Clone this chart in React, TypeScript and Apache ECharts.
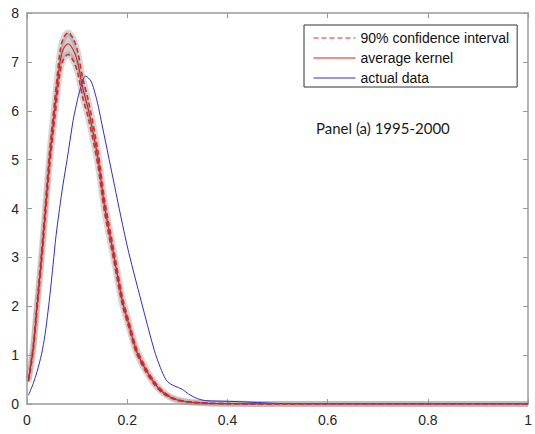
import React, { useEffect, useRef } from "react";
import * as echarts from "echarts";

// x positions for the kernel estimates
const xsKernel = [0.003, 0.0125, 0.02, 0.029, 0.037, 0.045, 0.055, 0.06, 0.066, 0.072, 0.082, 0.092, 0.101, 0.111, 0.123, 0.142, 0.154, 0.174, 0.19, 0.204, 0.218, 0.236, 0.254, 0.27, 0.29, 0.31, 0.33, 0.36, 0.4, 0.45, 0.5, 0.6, 0.8, 1.0];
const averageKernel = [0.49, 1.15, 2.0, 3.0, 4.0, 5.0, 6.0, 6.48, 7.0, 7.25, 7.37, 7.25, 7.0, 6.48, 6.0, 5.0, 4.1, 3.0, 2.12, 1.6, 1.1, 0.72, 0.43, 0.25, 0.12, 0.06, 0.035, 0.015, 0.006, 0.002, 0, 0, 0, 0];
const ciUpper = [0.52, 1.2, 2.07, 3.1, 4.12, 5.15, 6.18, 6.68, 7.22, 7.47, 7.6, 7.48, 7.22, 6.68, 6.18, 5.15, 4.23, 3.1, 2.2, 1.66, 1.15, 0.76, 0.46, 0.27, 0.13, 0.065, 0.038, 0.017, 0.007, 0.002, 0, 0, 0, 0];
const ciLower = [0.46, 1.1, 1.93, 2.9, 3.88, 4.85, 5.82, 6.28, 6.78, 7.03, 7.15, 7.03, 6.78, 6.28, 5.82, 4.85, 3.97, 2.9, 2.04, 1.54, 1.05, 0.68, 0.4, 0.23, 0.11, 0.055, 0.032, 0.013, 0.005, 0.002, 0, 0, 0, 0];

// actual data density
const xsActual = [0.003, 0.0125, 0.02, 0.029, 0.036, 0.042, 0.047, 0.052, 0.058, 0.065, 0.072, 0.08, 0.092, 0.097, 0.105, 0.117, 0.128, 0.136, 0.141, 0.148, 0.164, 0.175, 0.187, 0.203, 0.228, 0.254, 0.266, 0.277, 0.285, 0.294, 0.31, 0.323, 0.34, 0.356, 0.38, 0.4, 0.43, 0.46, 0.5, 0.55, 0.6, 1.0];
const actualData = [0.18, 0.42, 0.66, 1.02, 1.42, 1.9, 2.35, 2.85, 3.45, 4.0, 4.5, 5.0, 5.8, 6.05, 6.4, 6.71, 6.6, 6.35, 6.15, 5.8, 5.0, 4.45, 3.85, 3.1, 2.1, 1.1, 0.75, 0.5, 0.42, 0.37, 0.3, 0.2, 0.11, 0.07, 0.06, 0.055, 0.045, 0.03, 0.012, 0.003, 0, 0];

const panelLabel = "Panel (a) 1995-2000";
const legendNames = ["90% confidence interval", "average kernel", "actual data"];

const pairs = (xs: number[], ys: number[]) => xs.map((x, i) => [x, ys[i]]);

const AXIS_COLOR = "#9a9a9a";
const LABEL_COLOR = "#262626";
const FONT = "Liberation Sans";

export default function App() {
  const ref = useRef<HTMLDivElement>(null);
  useEffect(() => {
    if (!ref.current) return;
    const chart = echarts.init(ref.current, undefined, { renderer: "svg" });
    const axisCommon = {
      type: "value" as const,
      axisLine: { show: true, onZero: false, lineStyle: { color: AXIS_COLOR, width: 1.5 } },
      axisTick: { show: true, inside: true, length: 5, lineStyle: { color: AXIS_COLOR, width: 1 } },
      splitLine: { show: false },
    };
    const lineCommon = {
      type: "line" as const,
      showSymbol: false,
      symbol: "none",
      smooth: 0.3,
      silent: true,
    };
    const bandRows = xsKernel.map((x, i) => [x, ciLower[i], ciUpper[i]]);
    chart.setOption({
      animation: false,
      backgroundColor: "#ffffff",
      grid: { left: 27, right: 2, top: 13, bottom: 30, containLabel: false },
      xAxis: [
        {
          ...axisCommon,
          position: "bottom",
          min: 0,
          max: 1,
          interval: 0.2,
          axisLabel: { color: LABEL_COLOR, fontSize: 14, fontFamily: FONT, margin: 9 },
        },
        { ...axisCommon, position: "top", min: 0, max: 1, interval: 0.2, axisLabel: { show: false } },
      ],
      yAxis: [
        {
          ...axisCommon,
          position: "left",
          min: 0,
          max: 8,
          interval: 1,
          axisLabel: { color: LABEL_COLOR, fontSize: 14, fontFamily: FONT, margin: 8 },
        },
        { ...axisCommon, position: "right", min: 0, max: 8, interval: 1, axisLabel: { show: false } },
      ],
      legend: {
        data: legendNames,
        orient: "vertical",
        left: 304,
        top: 25,
        itemWidth: 42,
        itemHeight: 14,
        itemGap: 6,
        padding: [6, 8, 2, 9],
        borderColor: "#333333",
        borderWidth: 1,
        backgroundColor: "#ffffff",
        selectedMode: false,
        itemStyle: { opacity: 0 },
        lineStyle: { width: 1 },
        textStyle: { fontSize: 14, fontFamily: FONT, color: "#111111" },
      },
      graphic: [
        {
          type: "text",
          left: 316,
          top: 120,
          style: { text: panelLabel, font: "15px Lato", fill: "#1a1a1a" },
        },
      ],
      series: [
        {
          type: "custom",
          name: "band",
          silent: true,
          data: bandRows,
          encode: { x: 0, y: [1, 2] },
          renderItem: (params: any, api: any) => {
            if (params.dataIndex !== 0) return null;
            const top = bandRows.map((r) => api.coord([r[0], r[2]]));
            const bottom = bandRows.map((r) => api.coord([r[0], r[1]])).reverse();
            return {
              type: "polygon",
              shape: { points: top.concat(bottom), smooth: 0.3 },
              style: { fill: "rgba(160,160,160,0.5)", stroke: "none" },
            };
          },
        },
        {
          ...lineCommon,
          name: "haloUpper",
          data: pairs(xsKernel, ciUpper),
          lineStyle: { color: "rgba(140,140,140,0.35)", width: 6 },
        },
        {
          ...lineCommon,
          name: "haloLower",
          data: pairs(xsKernel, ciLower),
          lineStyle: { color: "rgba(140,140,140,0.35)", width: 6 },
        },
        {
          ...lineCommon,
          name: legendNames[2],
          data: pairs(xsActual, actualData),
          color: "#2e2ecc",
          lineStyle: { color: "#2e2ecc", width: 1 },
        },
        {
          ...lineCommon,
          name: legendNames[0],
          data: pairs(xsKernel, ciUpper),
          color: "#e02a2a",
          lineStyle: { color: "#e02a2a", width: 1.6, type: [5, 3] },
        },
        {
          ...lineCommon,
          name: legendNames[0],
          data: pairs(xsKernel, ciLower),
          color: "#e02a2a",
          lineStyle: { color: "#e02a2a", width: 1.6, type: [5, 3] },
        },
        {
          ...lineCommon,
          name: legendNames[1],
          data: pairs(xsKernel, averageKernel),
          color: "#d81e1e",
          lineStyle: { color: "#d81e1e", width: 1.1 },
        },
      ],
    });
    return () => chart.dispose();
  }, []);
  return (
    <div
      ref={ref}
      style={{ position: "fixed", left: 0, top: 0, width: 535, height: 434, background: "#fff" }}
    />
  );
}
